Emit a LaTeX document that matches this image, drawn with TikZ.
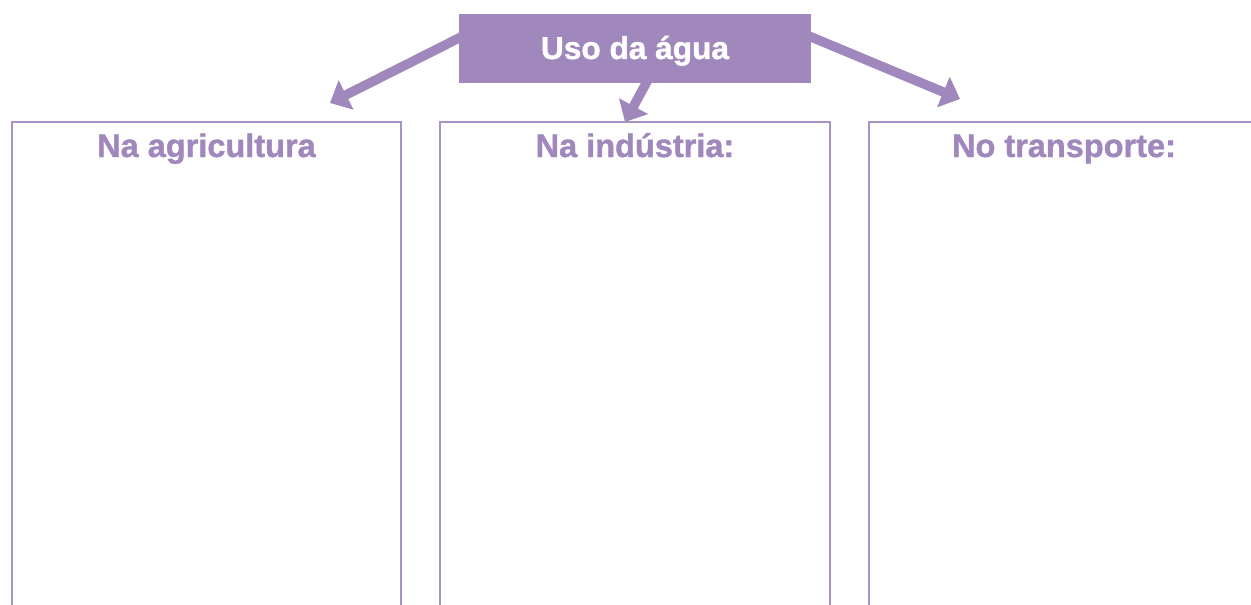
\documentclass[tikz,border=0pt]{standalone}
\usepackage{fontspec}
\setmainfont{Liberation Sans}[BoldFeatures={FakeBold=1.2}]
\usetikzlibrary{arrows.meta,backgrounds}
\definecolor{lila}{HTML}{A088BC}
\definecolor{lilaline}{HTML}{A893C5}
\begin{document}
\begin{tikzpicture}[x=0.02cm,y=-0.02cm]
        \tikzstyle{title}=[fill=lila,text=white,font=\fontsize{18}{20}\selectfont\bfseries,minimum width=7.04cm,text height=0.9cm,text depth=0.48cm,inner sep=0pt]
        \tikzstyle{heading}=[text=lila,font=\fontsize{18.5}{20}\selectfont\bfseries,anchor=base,inner sep=0pt]
        \tikzstyle{frame}=[draw=lilaline,line width=0.03cm]
        \tikzstyle{edge}=[draw=lila,line width=0.19cm,-{Triangle[length=0.36cm,width=0.64cm]}]
        \useasboundingbox (0,0) rectangle (1251,605);
        \begin{scope}
           \node [title] (uso) at (635,48.5) {Uso da água};
           \node [heading] (agri) at (206.5,157) {Na agricultura};
           \node [heading] (ind) at (635,157) {Na indústria:};
           \node [heading] (trans) at (1064,157) {No transporte:};
           \coordinate (s1) at (490,22.4);
           \coordinate (s2) at (656,65);
           \coordinate (s3) at (780,24);
           \coordinate (t1) at (330,103);
           \coordinate (t2) at (625,122);
           \coordinate (t3) at (960,99);
           \draw [frame] (12,605) -- (12,122) -- (401,122) -- (401,605);
           \draw [frame] (440,605) -- (440,122) -- (830,122) -- (830,605);
           \draw [frame] (869,605) -- (869,122) -- (1258,122);
        \end{scope}
        \begin{scope}[on background layer]
           \path[edge] (s1) -- (t1);
           \path[edge] (s2) -- (t2);
           \path[edge] (s3) -- (t3);
        \end{scope}
      \end{tikzpicture}
\end{document}
